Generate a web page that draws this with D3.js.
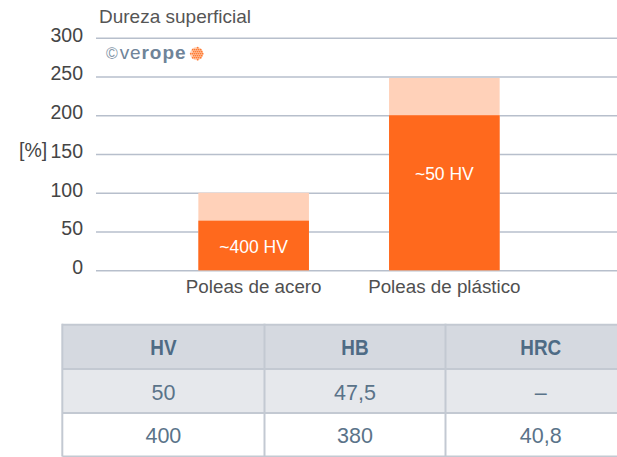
<!DOCTYPE html>
<html>
<head>
<meta charset="utf-8">
<script src="https://cdn.jsdelivr.net/npm/d3@7"></script>
<style>
  html, body { margin: 0; padding: 0; background: #fff; }
  svg { display: block; }
  text { font-family: "Liberation Sans", Arial, Helvetica, sans-serif; }
</style>
</head>
<body>
<div id="chart"></div>
<script>
// Surface hardness of pulleys, in percent, with the hardness conversion table below.
const categories = ["Poleas de acero", "Poleas de plástico"];
const totalValues = [100, 248];   // full bar (light part)
const coreValues = [64, 200];     // hardened part (dark part)
const barLabels = ["~400 HV", "~50 HV"];
const labelLevels = [30, 125];    // value-axis level at which each bar caption is centred
const yTicks = [0, 50, 100, 150, 200, 250, 300];

const tableHeader = ["HV", "HB", "HRC"];
const tableRows = [
  ["50", "47,5", "\u2013"],
  ["400", "380", "40,8"]
];

const W = 617, H = 457;
const svg = d3.select("#chart").append("svg")
  .attr("width", W).attr("height", H);

const plotLeft = 96, plotRight = W;
const y = d3.scaleLinear().domain([0, 300]).range([270.3, 37.7]);
const x = d3.scaleBand().domain(categories)
  .range([103, 595]).paddingInner(0.42).paddingOuter(0.5);

// Title
svg.append("text")
  .attr("x", 99).attr("y", 22.5)
  .attr("font-size", 19).attr("fill", "#555")
  .text("Dureza superficial");

// Y axis with grid lines
const yAxis = svg.append("g")
  .attr("transform", `translate(${plotLeft},0)`)
  .call(d3.axisLeft(y).tickValues(yTicks).tickFormat(d3.format("d"))
    .tickSize(-(plotRight - plotLeft)).tickPadding(13));
yAxis.select(".domain").remove();
yAxis.selectAll(".tick line").attr("stroke", "#b7bfcc").attr("stroke-width", 1.5);
yAxis.selectAll(".tick text")
  .attr("font-size", 19.5).attr("fill", "#454545")
  .attr("font-family", "'Liberation Sans', Arial, sans-serif")
  .attr("dy", "0.17em");

// Unit label next to the 150 tick
svg.append("text")
  .attr("x", 19).attr("y", y(150) + 3.3)
  .attr("font-size", 19.5).attr("fill", "#454545")
  .text("[%]");

// Logo
const logo = svg.append("text")
  .attr("x", 106).attr("y", 58.5)
  .attr("font-size", 19).attr("fill", "#6f8499")
  .attr("letter-spacing", 0.9);
logo.append("tspan").attr("font-size", 16).attr("fill", "#8496a8").text("\u00a9");
logo.append("tspan").attr("dx", 1).attr("font-weight", 300).text("ve");
logo.append("tspan").attr("font-weight", "bold").text("rope");
const ball = svg.append("g").attr("transform", "translate(196.7,53.7)");
ball.append("circle").attr("r", 6.6).attr("fill", "#ffd2b8");
const dots = [];
d3.range(-6, 7, 2).forEach(i => d3.range(-6, 7, 2).forEach(j => {
  if (i * i + j * j <= 36) dots.push([i + (j % 4 === 0 ? 0 : 1), j]);
}));
ball.selectAll("circle.dot").data(dots).join("circle")
  .attr("class", "dot").attr("cx", d => d[0]).attr("cy", d => d[1])
  .attr("r", 0.85).attr("fill", "#ff7a33");

// Bars: light full value, dark hardened part
const bars = svg.append("g");
bars.selectAll("rect.total").data(categories).join("rect")
  .attr("class", "total")
  .attr("x", d => x(d)).attr("width", x.bandwidth())
  .attr("y", (d, i) => y(totalValues[i]))
  .attr("height", (d, i) => y(0) - y(totalValues[i]))
  .attr("fill", "#ffd1b9");
bars.selectAll("rect.core").data(categories).join("rect")
  .attr("class", "core")
  .attr("x", d => x(d)).attr("width", x.bandwidth())
  .attr("y", (d, i) => y(coreValues[i]))
  .attr("height", (d, i) => y(0) - y(coreValues[i]))
  .attr("fill", "#ff691d");
bars.selectAll("text").data(categories).join("text")
  .attr("x", d => x(d) + x.bandwidth() / 2)
  .attr("y", (d, i) => y(labelLevels[i]))
  .attr("dy", "0.35em")
  .attr("text-anchor", "middle")
  .attr("font-size", 17.5).attr("fill", "#fff")
  .text((d, i) => barLabels[i]);

// Category axis
const xAxis = svg.append("g")
  .attr("transform", `translate(0,${y(0)})`)
  .call(d3.axisBottom(x).tickSize(0).tickPadding(9));
xAxis.select(".domain").remove();
xAxis.selectAll(".tick text")
  .attr("font-size", 18.8).attr("fill", "#505050")
  .attr("font-family", "'Liberation Sans', Arial, sans-serif")
  .attr("dy", "0.71em");

// Hardness conversion table
const tLeft = 62.3, tTop = 324.7;
const colEdges = [tLeft, 264.5, 445.5, 636];
const rowEdges = [tTop, 369, 413, 456.5];
const rowFill = ["#d5d9e0", "#e6e8ec", "#ffffff"];
const table = svg.append("g");
rowFill.forEach((f, r) => {
  table.append("rect")
    .attr("x", tLeft).attr("y", rowEdges[r])
    .attr("width", colEdges[3] - tLeft).attr("height", rowEdges[r + 1] - rowEdges[r])
    .attr("fill", f);
});
const lineColor = "#c3c9d2";
rowEdges.forEach(yy => table.append("line")
  .attr("x1", tLeft).attr("x2", colEdges[3]).attr("y1", yy).attr("y2", yy)
  .attr("stroke", lineColor).attr("stroke-width", 2));
colEdges.slice(0, 3).forEach(xx => table.append("line")
  .attr("x1", xx).attr("x2", xx).attr("y1", tTop - 1).attr("y2", rowEdges[3])
  .attr("stroke", lineColor).attr("stroke-width", 2));

const colCenter = i => (colEdges[i] + colEdges[i + 1]) / 2;
// Header cells in a condensed bold face
table.selectAll("text.head").data(tableHeader).join("text")
  .attr("class", "head")
  .attr("transform", (d, i) => `translate(${colCenter(i)},355.3) scale(0.86,1)`)
  .attr("text-anchor", "middle")
  .attr("font-weight", "bold").attr("font-size", 22).attr("fill", "#4e6b85")
  .text(d => d);
tableRows.forEach((row, r) => {
  table.selectAll(`text.r${r}`).data(row).join("text")
    .attr("class", `r${r}`)
    .attr("x", (d, i) => colCenter(i)).attr("y", [399.7, 443][r])
    .attr("text-anchor", "middle")
    .attr("font-size", 21.5).attr("fill", "#5a7389")
    .text(d => d);
});
</script>
</body>
</html>
